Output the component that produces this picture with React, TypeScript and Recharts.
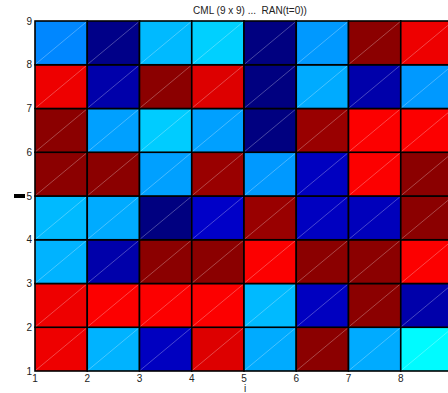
import { ReferenceArea, Scatter, ScatterChart, XAxis, YAxis } from "recharts";

// lattice columns / rows (lower-left corner of each cell)
const cols = [1, 2, 3, 4, 5, 6, 7, 8];
const rows = [1, 2, 3, 4, 5, 6, 7, 8];
const xTicks = [1, 2, 3, 4, 5, 6, 7, 8];
const yTicks = [1, 2, 3, 4, 5, 6, 7, 8, 9];

// cell values, top row first (row 8 .. row 1), -1 = navy ... 0 = cyan|red ... 1 = dark red
const row8 = [-0.33, -0.98, -0.19, -0.13, -1.0, -0.28, 0.91, 0.13];
const row7 = [0.13, -0.9, 0.91, 0.27, -1.0, -0.23, -0.9, -0.28];
const row6 = [0.91, -0.26, -0.14, -0.26, -1.0, 0.8, 0.02, 0.02];
const row5 = [0.91, 0.91, -0.26, 0.8, -0.28, -0.85, 0.02, 0.91];
const row4 = [-0.19, -0.23, -1.0, -0.83, 0.8, -0.85, -0.86, 0.91];
const row3 = [-0.21, -0.9, 0.91, 0.91, 0.02, 0.91, 0.91, 0.02];
const row2 = [0.13, 0.02, 0.02, 0.02, -0.19, -0.85, 0.91, -0.9];
const row1 = [0.13, -0.21, -0.85, 0.27, -0.23, 0.91, -0.23, -0.01];
const grid = [row1, row2, row3, row4, row5, row6, row7, row8];

function colorOf(v: number) {
  let r = 0;
  let g = 0;
  let b = 0;
  if (v < -0.7) {
    b = 128 + ((v + 1) / 0.3) * 127;
  } else if (v < 0) {
    b = 255;
    g = ((v + 0.7) / 0.7) * 255;
  } else {
    r = 255 - v * 127;
  }
  const h = (n: number) => Math.round(Math.max(0, Math.min(255, n))).toString(16).padStart(2, "0");
  return `#${h(r)}${h(g)}${h(b)}`;
}

const cells = rows.flatMap((y, ri) =>
  cols.map((x, ci) => ({ x, y, value: grid[ri][ci] }))
);

function Cell(props: any) {
  const { x, y, width, height, fill } = props;
  return (
    <g>
      <rect x={x} y={y} width={width} height={height} fill={fill} stroke="#000" strokeWidth={1.6} />
      <line
        x1={x + 1}
        y1={y + height - 1}
        x2={x + width - 1}
        y2={y + 1}
        stroke="#fff"
        strokeOpacity={0.4}
        strokeWidth={0.7}
      />
    </g>
  );
}

const font = "Liberation Sans, Arial, sans-serif";
const tickStyle = { fontSize: 10, fill: "#222", fontFamily: font };

export default function App() {
  return (
    <div style={{ position: "absolute", left: 0, top: 0, width: 448, height: 393, overflow: "hidden", background: "#fff" }}>
      <ScatterChart width={470} height={393} margin={{ top: 21, right: 17, bottom: 0, left: 0 }}>
        <XAxis
          type="number"
          dataKey="x"
          domain={[1, 9]}
          ticks={xTicks}
          interval={0}
          height={22}
          axisLine={false}
          tickLine={false}
          tickSize={0}
          tickMargin={4}
          tick={tickStyle}
        />
        <YAxis
          type="number"
          dataKey="y"
          domain={[1, 9]}
          ticks={yTicks}
          interval={0}
          width={35}
          axisLine={false}
          tickLine={false}
          tickSize={0}
          tickMargin={3}
          tick={tickStyle}
        />
        {cells.map((c) => (
          <ReferenceArea
            key={`${c.x}-${c.y}`}
            x1={c.x}
            x2={c.x + 1}
            y1={c.y}
            y2={c.y + 1}
            fill={colorOf(c.value)}
            fillOpacity={1}
            shape={Cell}
          />
        ))}
        <Scatter data={cells} isAnimationActive={false} shape={() => <g />} />
      </ScatterChart>
      <svg width={448} height={393} style={{ position: "absolute", left: 0, top: 0, pointerEvents: "none" }}>
        <text
          x={250}
          y={14}
          textAnchor="middle"
          fontSize={10}
          fill="#222"
          fontFamily={font}
          style={{ whiteSpace: "pre" }}
        >
          {"CML (9 x 9) ...  RAN(t=0))"}
        </text>
        <text x={245} y={392} textAnchor="middle" fontSize={10} fill="#222" fontFamily={font}>
          i
        </text>
        <rect x={14} y={194} width={11} height={4} fill="#000" />
      </svg>
    </div>
  );
}
